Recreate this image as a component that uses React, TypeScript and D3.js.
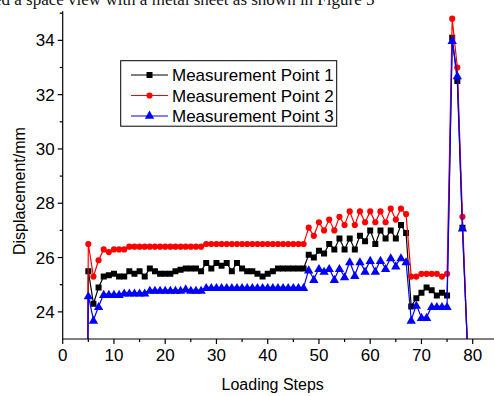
import * as d3 from 'd3';

const W = 494;
const H = 396;

// loading steps 4..79 (step 4 and 79 fall below the visible axis range)
const steps = [
  4, 5, 6, 7, 8, 9, 10, 11, 12, 13, 14, 15, 16, 17, 18, 19, 20, 21, 22, 23,
  24, 25, 26, 27, 28, 29, 30, 31, 32, 33, 34, 35, 36, 37, 38, 39, 40, 41, 42, 43,
  44, 45, 46, 47, 48, 49, 50, 51, 52, 53, 54, 55, 56, 57, 58, 59, 60, 61, 62, 63,
  64, 65, 66, 67, 68, 69, 70, 71, 72, 73, 74, 75, 76, 77, 78, 79,
];

const point1 = [
  0, 25.5, 24.3, 24.9, 25.3, 25.35, 25.4, 25.3, 25.3, 25.5, 25.4, 25.5, 25.3, 25.6, 25.5, 25.4, 25.4, 25.4, 25.5, 25.55,
  25.6, 25.6, 25.6, 25.5, 25.8, 25.6, 25.8, 25.7, 25.8, 25.5, 25.8, 25.6, 25.5, 25.5, 25.4, 25.3, 25.4, 25.5, 25.6, 25.6,
  25.6, 25.6, 25.6, 25.6, 26.1, 26.0, 26.25, 26.15, 26.5, 26.3, 26.7, 26.3, 26.7, 26.3, 26.8, 26.6, 27.0, 26.5, 27.0, 26.7,
  27.0, 26.7, 27.2, 26.9, 24.2, 24.5, 24.7, 24.9, 24.8, 24.6, 24.7, 24.6, 34.1, 32.5, 27.1, 22.6,
];

const point2 = [
  0, 26.5, 25.3, 25.9, 26.3, 26.2, 26.3, 26.3, 26.3, 26.4, 26.4, 26.4, 26.4, 26.4, 26.4, 26.4, 26.4, 26.4, 26.4, 26.4,
  26.4, 26.4, 26.4, 26.4, 26.5, 26.5, 26.5, 26.5, 26.5, 26.5, 26.5, 26.5, 26.5, 26.5, 26.5, 26.5, 26.5, 26.5, 26.5, 26.5,
  26.5, 26.5, 26.5, 26.5, 27.1, 26.8, 27.3, 27.0, 27.4, 27.0, 27.5, 27.2, 27.7, 27.2, 27.7, 27.3, 27.7, 27.3, 27.7, 27.3,
  27.8, 27.4, 27.8, 27.6, 25.3, 25.3, 25.4, 25.4, 25.4, 25.4, 25.3, 25.4, 34.8, 33.0, 27.5, 22.6,
];

const point3 = [
  0, 24.6, 23.7, 24.2, 24.65, 24.65, 24.65, 24.65, 24.7, 24.7, 24.7, 24.7, 24.7, 24.8, 24.8, 24.8, 24.8, 24.8, 24.8, 24.8,
  24.85, 24.8, 24.8, 24.8, 24.9, 24.9, 24.9, 24.9, 24.9, 24.9, 24.9, 24.9, 24.9, 24.9, 24.9, 24.9, 24.9, 24.9, 24.9, 24.9,
  24.9, 24.9, 24.9, 24.9, 25.55, 25.2, 25.6, 25.5, 25.6, 25.2, 25.6, 25.3, 25.85, 25.35, 25.85, 25.5, 25.9, 25.5, 25.9, 25.6,
  26.0, 25.7, 26.0, 25.85, 23.7, 24.25, 23.8, 23.8, 24.2, 24.2, 24.2, 24.2, 34.0, 32.7, 27.1, 22.6,
];

const seriesNames = ['Measurement Point 1', 'Measurement Point 2', 'Measurement Point 3'];
const seriesColors = ['#000000', '#ff0000', '#0000ff'];
const seriesShapes = [d3.symbolSquare, d3.symbolCircle, d3.symbolTriangle];
const seriesValues = [point1, point2, point3];

const xMajor = [0, 10, 20, 30, 40, 50, 60, 70, 80];
const yMajor = [24, 26, 28, 30, 32, 34];

const FONT = '"Liberation Sans", Arial, sans-serif';

export default function App() {
  const x = d3.scaleLinear().domain([0, 80]).range([62.7, 472.7]);
  const y = d3.scaleLinear().domain([23, 35]).range([339, 13.2]);
  const left = x(0);
  const bottom = y(23);
  const right = W;
  const top = y(35);

  const xMinor = d3.range(5, 90, 10);
  const yMinor = d3.range(25, 36, 2);

  const line = d3.line<number>()
    .x((_, i) => x(steps[i]))
    .y((d) => y(d));

  const symSizes = [36, 30, 38];

  return (
    <div style={{ position: 'fixed', left: 0, top: 0, width: W, height: H, background: '#fff' }}>
      <svg width={W} height={H} style={{ display: 'block' }}>
        <defs>
          <clipPath id="plot">
            <rect x={left} y={0} width={right - left} height={bottom} />
          </clipPath>
        </defs>

        {/* caption line from the page above, cut by the top edge */}
        <text x={-6} y={5} fontFamily='"Liberation Serif", serif' fontSize={17} fill="#111">
          ed a space view with a metal sheet as shown in Figure 5
        </text>

        {/* series */}
        <g clipPath="url(#plot)">
          {seriesValues.map((vals, s) => (
            <g key={s}>
              <path d={line(vals) || ''} fill="none" stroke={seriesColors[s]} strokeWidth={1.2} />
              {vals.map((v, i) => (
                <path
                  key={i}
                  transform={`translate(${x(steps[i])},${y(v) + (s === 2 ? 1 : 0)})`}
                  d={d3.symbol(seriesShapes[s], symSizes[s])() || ''}
                  fill={seriesColors[s]}
                />
              ))}
            </g>
          ))}
        </g>

        {/* axes */}
        <g stroke="#000" strokeWidth={1.2}>
          <line x1={left} x2={right} y1={bottom} y2={bottom} />
          <line x1={left} x2={left} y1={top - 2} y2={bottom} />
          {xMajor.map((t) => (
            <line key={t} x1={x(t)} x2={x(t)} y1={bottom} y2={bottom + 5} />
          ))}
          {xMinor.map((t) => (
            <line key={t} x1={x(t)} x2={x(t)} y1={bottom} y2={bottom + 3} />
          ))}
          {yMajor.map((t) => (
            <line key={t} x1={left - 5} x2={left} y1={y(t)} y2={y(t)} />
          ))}
          {yMinor.map((t) => (
            <line key={t} x1={left - 3} x2={left} y1={y(t)} y2={y(t)} />
          ))}
        </g>
        <g fontFamily={FONT} fontSize={17} fill="#000">
          {xMajor.map((t) => (
            <text key={t} x={x(t)} y={bottom + 22} textAnchor="middle">{t}</text>
          ))}
          {yMajor.map((t) => (
            <text key={t} x={left - 8} y={y(t) + 6} textAnchor="end">{t}</text>
          ))}
        </g>
        <text x={(left + x(80)) / 2 + 5} y={390} textAnchor="middle" fontFamily={FONT} fontSize={16}>
          Loading Steps
        </text>
        <text
          transform={`translate(25,${(top + bottom) / 2 + 15}) rotate(-90)`}
          textAnchor="middle"
          fontFamily={FONT}
          fontSize={16}
        >
          Displacement/mm
        </text>

        {/* legend */}
        <g>
          <rect x={120.7} y={60.7} width={216} height={65.5} fill="#fff" stroke="#000" strokeWidth={1} />
          {seriesNames.map((name, s) => {
            const ly = 75 + s * 20.5;
            return (
              <g key={name}>
                <line x1={131} x2={168} y1={ly} y2={ly} stroke={seriesColors[s]} strokeWidth={1.2} />
                <path
                  transform={`translate(149.5,${ly})`}
                  d={d3.symbol(seriesShapes[s], symSizes[s])() || ''}
                  fill={seriesColors[s]}
                />
                <text x={172} y={ly + 6} fontFamily={FONT} fontSize={17}>{name}</text>
              </g>
            );
          })}
        </g>
      </svg>
    </div>
  );
}
